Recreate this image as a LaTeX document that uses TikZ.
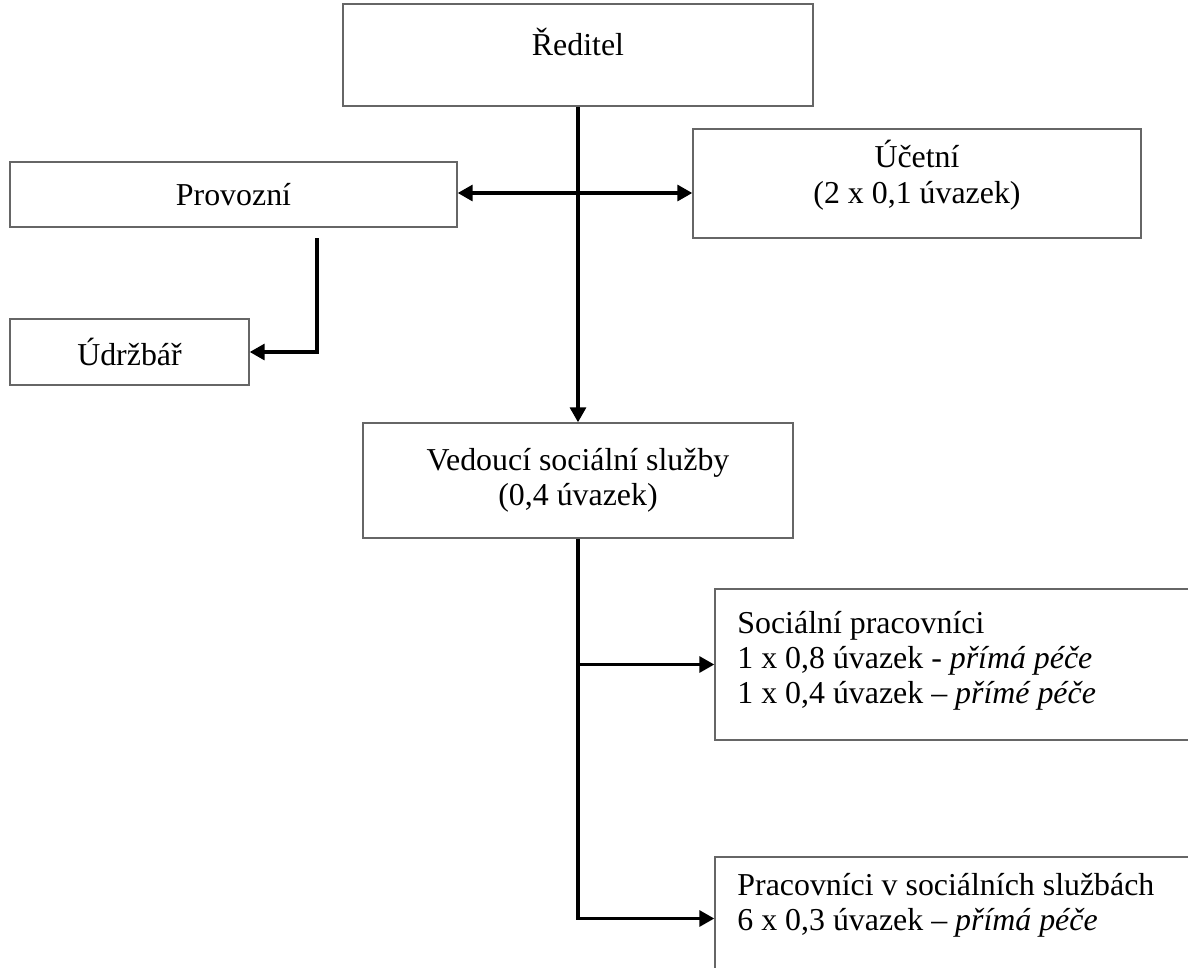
\documentclass[tikz,border=0pt]{standalone}
\usepackage{fontspec}
\setmainfont{Liberation Serif}
\usetikzlibrary{arrows.meta}

\begin{document}
\begin{tikzpicture}[x=0.4706pt,y=-0.4706pt,>={Triangle[length=7pt,width=7.5pt]},
  box/.style={draw=black!60,line width=0.7pt,inner sep=0pt,align=center,font=\fontsize{15}{16.5}\selectfont},
  boxtext/.style={anchor=north west,inner sep=0pt,align=left,font=\fontsize{15}{16.5}\selectfont},
  link/.style={line width=1.5pt}]
\clip (0,0) rectangle (1188,967);

\node[box,minimum width=470*0.4706pt,minimum height=102*0.4706pt,text depth=12pt] (reditel) at (578,55) {Ředitel};
\node[box,minimum width=447*0.4706pt,minimum height=65*0.4706pt] (provozni) at (233.5,194.5) {Provozní};
\node[box,minimum width=448*0.4706pt,minimum height=109*0.4706pt,text depth=11pt] (ucetni) at (917,183.5) {Účetní\\(2 x 0,1 úvazek)};
\node[box,minimum width=239*0.4706pt,minimum height=66*0.4706pt] (udrzbar) at (129.5,352) {Údržbář};
\node[box,minimum width=430*0.4706pt,minimum height=115*0.4706pt] (vedouci) at (578,480.5) {Vedoucí sociální služby\\(0,4 úvazek)};

\node[box,minimum width=485*0.4706pt,minimum height=151*0.4706pt] (socprac) at (957.5,664.5) {};
\node[boxtext] (socpractext) at (737,611) {Sociální pracovníci\\1 x 0,8 úvazek - \textit{přímá péče}\\1 x 0,4 úvazek – \textit{přímé péče}};
\node[box,minimum width=485*0.4706pt,minimum height=123*0.4706pt] (pracss) at (957.5,918.5) {};
\node[boxtext] (pracsstext) at (737,873) {Pracovníci v sociálních službách\\6 x 0,3 úvazek – \textit{přímá péče}};

\coordinate (hub) at (578,193);
\coordinate (provdrop) at (317,238);

\draw[link,->] (reditel.south) -- (vedouci.north);
\draw[link,<->] (provozni.east |- hub) -- (ucetni.west |- hub);
\draw[link,->] (provdrop) |- (udrzbar.east);
\draw[link,->] (vedouci.south |- socprac.west) -- (socprac.west);
\draw[link,->] (vedouci.south) |- (pracss.west);

\end{tikzpicture}
\end{document}
